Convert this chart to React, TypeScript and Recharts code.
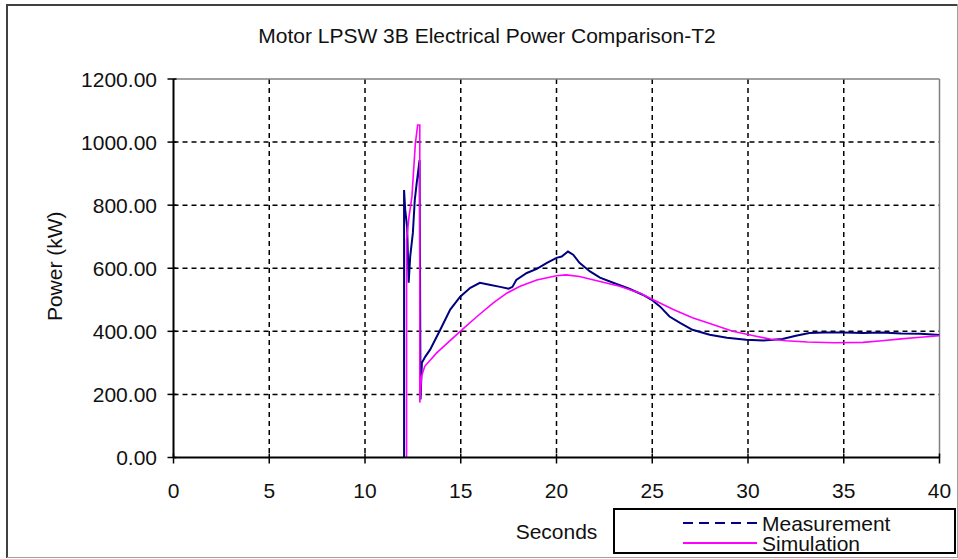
import React from 'react';
import { LineChart, Line, XAxis, YAxis, CartesianGrid, ReferenceLine, Legend, Label, Customized } from 'recharts';

const FONT = '"Liberation Sans", Arial, Helvetica, sans-serif';

// Measurement trace (seconds, kW)
const MEAS_X = [12.04, 12.04, 12.1, 12.2, 12.28, 12.36, 12.5, 12.6, 12.7, 12.85, 12.9, 12.97, 13.15, 13.4, 13.93, 14.45, 14.97, 15.5, 16.0, 16.5, 17.06, 17.5, 17.7, 17.9, 18.45, 18.97, 19.5, 20.0, 20.27, 20.6, 20.87, 21.2, 21.75, 22.27, 22.96, 23.8, 24.5, 24.97, 25.4, 25.9, 26.45, 27.1, 28.0, 28.9, 29.9, 30.8, 31.8, 32.5, 33.2, 34.0, 35.0, 36.0, 37.0, 38.0, 39.0, 40.0];
const MEAS_Y = [0, 848, 785, 731, 554, 637, 712, 817, 870, 943, 184, 300, 320, 342, 405, 469, 510, 538, 554, 548, 541, 535, 541, 563, 585, 598, 617, 633, 637, 653, 643, 617, 590, 570, 554, 535, 516, 500, 479, 447, 427, 405, 389, 380, 373, 371, 376, 386, 395, 396, 396, 395, 396, 393, 392, 388];

// Simulation trace (seconds, kW)
const SIM_X = [12.17, 12.17, 12.3, 12.45, 12.63, 12.75, 12.86, 12.86, 12.95, 13.12, 13.73, 14.97, 15.85, 16.7, 17.4, 18.1, 18.97, 20.0, 20.5, 21.2, 22.27, 23.3, 24.37, 25.05, 26.1, 27.1, 28.2, 29.2, 30.3, 31.2, 32.0, 33.1, 34.5, 36.0, 37.0, 38.0, 39.0, 40.0];
const SIM_Y = [0, 690, 764, 827, 996, 1054, 1054, 174, 257, 289, 331, 400, 447, 490, 521, 543, 563, 576, 579, 574, 558, 543, 521, 500, 469, 443, 421, 400, 386, 375, 370, 366, 364, 365, 370, 376, 381, 386];

const X_TICKS = [0, 5, 10, 15, 20, 25, 30, 35, 40];
const Y_TICKS = [0, 200, 400, 600, 800, 1000, 1200];
const X_GRID = [5, 10, 15, 20, 25, 30, 35];
const Y_GRID = [200, 400, 600, 800, 1000];

const TITLE = 'Motor LPSW 3B Electrical Power Comparison-T2';

const measData = MEAS_X.map((x, i) => ({ x, y: MEAS_Y[i] }));
const simData = SIM_X.map((x, i) => ({ x, y: SIM_Y[i] }));

const XTick = ({ x, y, payload }: any) => (
    <g>
        <line x1={x} x2={x} y1={y - 4} y2={y + 6} stroke="#000" strokeWidth={1.5} />
        <text x={x} y={y + 40} textAnchor="middle" fontSize={21} fontFamily={FONT} fill="#111">{payload.value}</text>
    </g>
);

const YTick = ({ x, y, payload }: any) => (
    <g>
        <line x1={x - 6} x2={x + 3} y1={y} y2={y} stroke="#000" strokeWidth={1.5} />
        <text x={x - 16.5} y={y + 7.5} textAnchor="end" fontSize={21} fontFamily={FONT} fill="#111">{Number(payload.value).toFixed(2)}</text>
    </g>
);

const renderLegend = () => (
    <svg width={343} height={46} style={{ display: 'block' }}>
        <rect x={1} y={1} width={341} height={44} fill="#fff" stroke="#000" strokeWidth={2} />
        <line x1={70} x2={144} y1={15} y2={15} stroke="#000080" strokeWidth={2} strokeDasharray="10 6" />
        <text x={149} y={22.7} fontSize={21} fontFamily={FONT} fill="#111">Measurement</text>
        <line x1={70} x2={144} y1={35} y2={35} stroke="#ff00ff" strokeWidth={2} />
        <text x={149} y={43} fontSize={21} fontFamily={FONT} fill="#111">Simulation</text>
    </svg>
);

const Frame = () => (
    <g>
        <text x={487} y={43.3} textAnchor="middle" fontSize={21} fontFamily={FONT} fill="#111">{TITLE}</text>
        <line x1={6} x2={957} y1={5} y2={5} stroke="#404040" strokeWidth={2} />
        <line x1={7} x2={7} y1={4} y2={558} stroke="#404040" strokeWidth={2} />
        <line x1={7} x2={958} y1={557.5} y2={557.5} stroke="#a0a0a0" strokeWidth={1} />
        <line x1={957.5} x2={957.5} y1={4} y2={558} stroke="#a0a0a0" strokeWidth={1} />
    </g>
);

export default function App() {
    return (
        <div style={{ position: 'absolute', left: 0, top: 0, width: 958, height: 559, background: '#fff', fontFamily: FONT }}>
            <LineChart width={958} height={559} margin={{ top: 79, right: 18.5, left: 0, bottom: 61.5 }}>
                <CartesianGrid
                    stroke="#000"
                    strokeWidth={1.5}
                    strokeDasharray="5 4"
                    horizontalValues={Y_GRID}
                    verticalValues={X_GRID}
                />
                <ReferenceLine y={1200} stroke="#808080" strokeWidth={1.5} />
                <ReferenceLine x={40} stroke="#808080" strokeWidth={1.5} />
                <XAxis
                    type="number"
                    dataKey="x"
                    domain={[0, 40]}
                    ticks={X_TICKS}
                    height={40}
                    tickSize={0}
                    tickMargin={0}
                    tickLine={false}
                    tick={XTick}
                    axisLine={{ stroke: '#000', strokeWidth: 2 }}
                    allowDataOverflow
                >
                    <Label
                        content={({ viewBox }: any) => (
                            <text x={viewBox.x + viewBox.width / 2} y={539} textAnchor="middle" fontSize={21} fontFamily={FONT} fill="#111">Seconds</text>
                        )}
                    />
                </XAxis>
                <YAxis
                    type="number"
                    domain={[0, 1200]}
                    ticks={Y_TICKS}
                    width={173.5}
                    tickSize={0}
                    tickMargin={0}
                    tickLine={false}
                    tick={YTick}
                    axisLine={{ stroke: '#000', strokeWidth: 2 }}
                    allowDataOverflow
                >
                    <Label
                        content={({ viewBox }: any) => (
                            <text transform={`translate(62, ${viewBox.y + viewBox.height / 2 - 2}) rotate(-90)`} textAnchor="middle" fontSize={21} fontFamily={FONT} fill="#111">Power (kW)</text>
                        )}
                    />
                </YAxis>
                <Line data={measData} dataKey="y" name="Measurement" type="linear" stroke="#000080" strokeWidth={2} dot={false} isAnimationActive={false} />
                <Line data={simData} dataKey="y" name="Simulation" type="linear" stroke="#ff00ff" strokeWidth={1.6} dot={false} isAnimationActive={false} />
                <Legend
                    layout="vertical"
                    align="center"
                    verticalAlign="middle"
                    content={renderLegend}
                    wrapperStyle={{ left: 613, top: 508, width: 343, height: 46 }}
                />
                <Customized component={Frame} />
            </LineChart>
        </div>
    );
}
